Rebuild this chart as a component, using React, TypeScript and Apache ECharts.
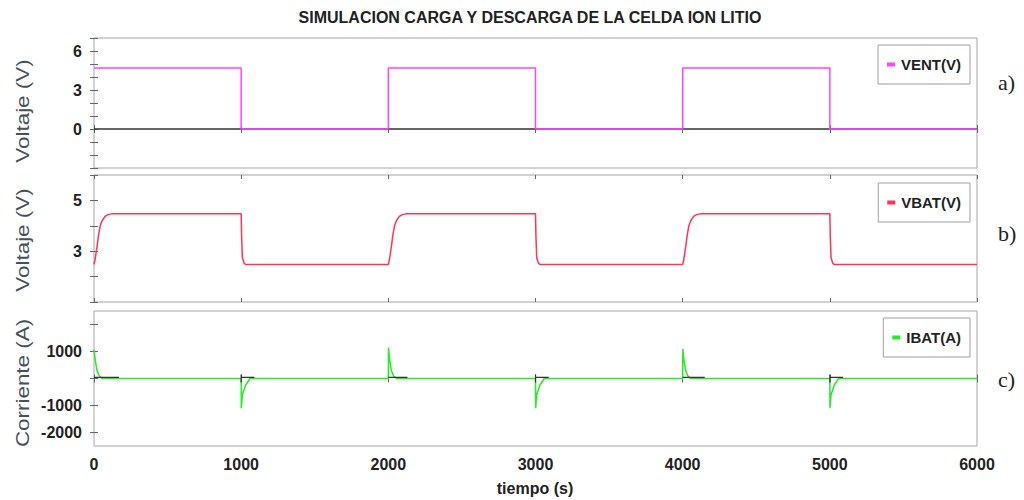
import React, { useEffect, useRef } from "react";
import * as echarts from "echarts";

// ---------- data ----------
const TITLE = "SIMULACION CARGA Y DESCARGA DE LA CELDA ION LITIO";
const X_NAME = "tiempo (s)";
const X_TICKS = [0, 1000, 2000, 3000, 4000, 5000, 6000];

const A_NAME = "Voltaje (V)";
const A_LABELS = [0, 3, 6];
const B_NAME = "Voltaje (V)";
const B_LABELS = [3, 5];
const C_NAME = "Corriente (A)";
const C_TICKS = [-2000, -1000, 0, 1000, 2000];
const C_LABELS = [-2000, -1000, 1000];

const VENT_NAME = "VENT(V)";
const VENT_T = [0, 1000, 1000, 2000, 2000, 3000, 3000, 4000, 4000, 5000, 5000, 6000];
const VENT_V = [4.7, 4.7, 0, 0, 4.7, 4.7, 0, 0, 4.7, 4.7, 0, 0];
const REF_A_T = [0, 6000];
const REF_A_V = [0, 0];

const VBAT_NAME = "VBAT(V)";
const VBAT_T = [
  0, 5, 12, 20, 30, 42, 55, 75, 95, 120,
  1000, 1003, 1008, 1020, 1030,
  2000, 2005, 2012, 2020, 2030, 2042, 2055, 2075, 2095, 2120,
  3000, 3003, 3008, 3020, 3030,
  4000, 4005, 4012, 4020, 4030, 4042, 4055, 4075, 4095, 4120,
  5000, 5003, 5008, 5020, 5030,
  6000,
];
const VBAT_V = [
  2.48, 2.6, 2.85, 3.15, 3.6, 4.0, 4.2, 4.37, 4.44, 4.47,
  4.47, 3.6, 2.75, 2.52, 2.48,
  2.48, 2.6, 2.85, 3.15, 3.6, 4.0, 4.2, 4.37, 4.44, 4.47,
  4.47, 3.6, 2.75, 2.52, 2.48,
  2.48, 2.6, 2.85, 3.15, 3.6, 4.0, 4.2, 4.37, 4.44, 4.47,
  4.47, 3.6, 2.75, 2.52, 2.48,
  2.48,
];

const IBAT_NAME = "IBAT(A)";
const IBAT_T = [
  0, 8, 20, 35, 55,
  1000, 1001, 1008, 1030, 1060,
  2000, 2001, 2008, 2020, 2035, 2055,
  3000, 3001, 3008, 3030, 3060,
  4000, 4001, 4008, 4020, 4035, 4055,
  5000, 5001, 5008, 5030, 5060,
  6000,
];
const IBAT_V = [
  1080, 700, 300, 100, 0,
  0, -1100, -600, -250, 0,
  0, 1150, 750, 300, 100, 0,
  0, -1100, -600, -250, 0,
  0, 1090, 720, 300, 100, 0,
  0, -1100, -600, -250, 0,
  0,
];
const REF_C_T = [
  0, 170, null,
  1000, 1000, 1000, 1090, null,
  2000, 2130, null,
  3000, 3000, 3000, 3090, null,
  4000, 4150, null,
  5000, 5000, 5000, 5090,
];
const REF_C_V = [
  40, 40, null,
  150, -150, 40, 40, null,
  40, 40, null,
  150, -150, 40, 40, null,
  40, 40, null,
  150, -150, 40, 40,
];

// ---------- helpers ----------
const zip = (t: (number | null)[], v: (number | null)[]) =>
  t.map((x, i) => (x === null || v[i] === null ? ["-", "-"] : [x, v[i]]));

const GRIDS = [
  { top: 38, height: 130 },
  { top: 175, height: 127 },
  { top: 311, height: 135 },
];
const LEFT = 94;
const RIGHT = 47;
const FONT = "'Liberation Sans', Arial, sans-serif";
const plain = (v: number) => String(v);

export default function App() {
  const ref = useRef<HTMLDivElement>(null);
  useEffect(() => {
    if (!ref.current) return;
    const chart = echarts.init(ref.current, null, { renderer: "svg" });

    const tickStyle = { show: true, inside: true, length: 4, lineStyle: { color: "#666", width: 1 } };
    const labelStyle = { fontFamily: FONT, fontWeight: "bold", fontSize: 16, color: "#222" };

    const grid = GRIDS.map((g) => ({
      left: LEFT,
      right: RIGHT,
      top: g.top,
      height: g.height,
      show: true,
      borderColor: "#a5a5a5",
      borderWidth: 1,
      backgroundColor: "#fff",
    }));

    const xAxis: any[] = [];
    GRIDS.forEach((_, i) => {
      ["bottom", "top"].forEach((pos) => {
        xAxis.push({
          type: "value",
          gridIndex: i,
          position: pos,
          min: X_TICKS[0],
          max: X_TICKS[X_TICKS.length - 1],
          interval: 1000,
          axisLine: { show: false },
          axisTick: tickStyle,
          splitLine: { show: false },
          axisLabel:
            i === 2 && pos === "bottom"
              ? { ...labelStyle, margin: 10, formatter: plain }
              : { show: false },
        });
      });
    });

    const yDefs = [
      { min: -3, max: 7, interval: 1, labels: A_LABELS },
      { min: 1, max: 6, interval: 1, labels: B_LABELS },
      { min: -2500, max: 2500, ticks: C_TICKS, labels: C_LABELS },
    ];
    const yAxis: any[] = [];
    yDefs.forEach((d: any, i) => {
      ["left", "right"].forEach((pos) => {
        const ax: any = {
          type: "value",
          gridIndex: i,
          position: pos,
          min: d.min,
          max: d.max,
          axisLine: { show: false },
          splitLine: { show: false },
          axisTick: { ...tickStyle },
        };
        if (d.interval) ax.interval = d.interval;
        if (d.ticks) ax.axisTick = { ...tickStyle, customValues: d.ticks };
        if (pos === "left") {
          if (d.ticks) {
            ax.axisLabel = { ...labelStyle, margin: 12, customValues: d.labels, formatter: plain };
          } else {
            ax.axisLabel = {
              ...labelStyle,
              margin: 12,
              formatter: (v: number) => (d.labels.includes(v) ? String(v) : ""),
            };
          }
        } else {
          ax.axisLabel = { show: false };
        }
        yAxis.push(ax);
      });
    });

    const line = (name: string, color: string, data: any[], xi: number, yi: number, z: number, width = 1.5) => ({
      name,
      type: "line",
      xAxisIndex: xi,
      yAxisIndex: yi,
      data,
      showSymbol: false,
      symbol: "none",
      connectNulls: false,
      z,
      lineStyle: { color, width },
      itemStyle: { color },
      emphasis: { disabled: true },
    });

    const series = [
      line("ref_a", "#333", zip(REF_A_T, REF_A_V), 0, 0, 2, 1.5),
      line(VENT_NAME, "#ff44ff", zip(VENT_T, VENT_V), 0, 0, 3),
      line(VBAT_NAME, "#ff3355", zip(VBAT_T, VBAT_V), 2, 2, 3),
      line(IBAT_NAME, "#22ee22", zip(IBAT_T, IBAT_V), 4, 4, 3),
      line("ref_c", "#333", zip(REF_C_T, REF_C_V), 4, 4, 4, 1.2),
    ];

    const legendBase = {
      orient: "vertical",
      right: 54,
      icon: "rect",
      itemWidth: 8,
      itemHeight: 4,
      itemGap: 6,
      padding: [12, 9, 12, 9],
      borderColor: "#a0a0a0",
      borderWidth: 1,
      backgroundColor: "#fff",
      selectedMode: false,
      textStyle: { fontFamily: FONT, fontWeight: "bold", fontSize: 15, color: "#222", padding: [0, 0, 0, 1] },
    };
    const legend = [
      { ...legendBase, top: 45, data: [VENT_NAME] },
      { ...legendBase, top: 183, data: [VBAT_NAME] },
      { ...legendBase, top: 318, data: [IBAT_NAME] },
    ];

    const yName = (text: string, y: number) => ({
      type: "text",
      x: 22,
      y,
      rotation: Math.PI / 2,
      scaleX: 1.18,
      scaleY: 1,
      style: {
        text,
        fontFamily: FONT,
        fontSize: 19,
        fill: "#45505c",
        textAlign: "center",
        textVerticalAlign: "middle",
        align: "center",
        verticalAlign: "middle",
      },
    });
    const panelTag = (text: string, y: number) => ({
      type: "text",
      x: 998,
      y,
      style: {
        text,
        fontFamily: "'Liberation Serif', 'Times New Roman', serif",
        fontSize: 22,
        fill: "#222",
        textAlign: "left",
        textVerticalAlign: "middle",
        align: "left",
        verticalAlign: "middle",
      },
    });

    const graphic = [
      {
        type: "text",
        x: 530,
        y: 17,
        style: {
          text: TITLE,
          fontFamily: FONT,
          fontWeight: "bold",
          fontSize: 16,
          fill: "#222",
          textAlign: "center",
          textVerticalAlign: "middle",
          align: "center",
          verticalAlign: "middle",
        },
      },
      {
        type: "text",
        x: 535,
        y: 488,
        style: {
          text: X_NAME,
          fontFamily: FONT,
          fontWeight: "bold",
          fontSize: 16,
          fill: "#222",
          textAlign: "center",
          textVerticalAlign: "middle",
          align: "center",
          verticalAlign: "middle",
        },
      },
      yName(A_NAME, 111),
      yName(B_NAME, 240),
      yName(C_NAME, 383),
      panelTag("a)", 82),
      panelTag("b)", 233),
      panelTag("c)", 379),
    ];

    chart.setOption({
      animation: false,
      backgroundColor: "#fff",
      grid,
      xAxis,
      yAxis,
      series,
      legend,
      graphic,
    });
    return () => chart.dispose();
  }, []);

  return (
    <div
      ref={ref}
      style={{ position: "fixed", left: 0, top: 0, width: 1024, height: 500, background: "#fff" }}
    />
  );
}
